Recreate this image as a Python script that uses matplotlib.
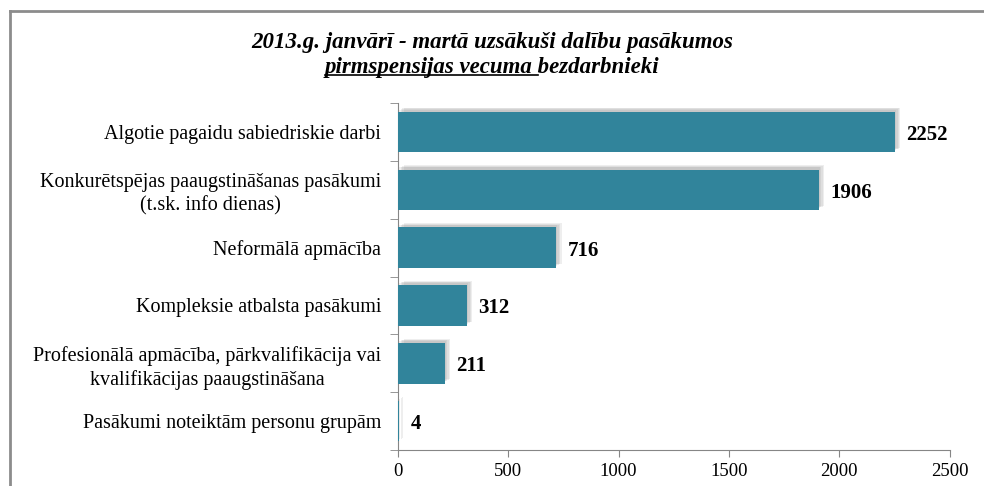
import matplotlib.pyplot as plt
import matplotlib.patheffects as pe
from matplotlib.lines import Line2D
import numpy as np

categories = [
    "Algotie pagaidu sabiedriskie darbi",
    "Konkurētspējas paaugstināšanas pasākumi\n(t.sk. info dienas)",
    "Neformālā apmācība",
    "Kompleksie atbalsta pasākumi",
    "Profesionālā apmācība, pārkvalifikācija vai\nkvalifikācijas paaugstināšana",
    "Pasākumi noteiktām personu grupām",
]
values = [2252, 1906, 716, 312, 211, 4]
xticks = [0, 500, 1000, 1500, 2000, 2500]

title1 = "2013.g. janvārī - martā uzsākuši dalību pasākumos"
title2_under = "pirmspensijas vecuma "
title2_rest = "bezdarbnieki"


def main():
    plt.rcParams["font.family"] = ["Liberation Serif", "DejaVu Serif"]
    fig = plt.figure(figsize=(9.84, 4.86), dpi=100)
    ax = fig.add_axes([0.4045, 0.074, 0.5605, 0.714])

    y = np.arange(len(values))
    # soft shadow: several faint offset copies
    shadow = []
    for off in [(4, 3), (3, 2.5), (2, 2), (1, 1.5)]:
        shadow.append(pe.SimplePatchShadow(offset=off, shadow_rgbFace="#808080", alpha=0.13))
    shadow.append(pe.Normal())
    bars = ax.barh(y, values, height=0.7, color="#31849B", zorder=3)
    for b in bars:
        b.set_path_effects(shadow)

    for yi, v in zip(y, values):
        ax.text(v + 52, yi + 0.05, str(v), va="center", ha="left",
                fontsize=15, fontweight="bold")

    ax.set_xlim(0, 2500)
    ax.set_ylim(len(values) - 0.5, -0.5)
    ax.set_xticks(xticks)
    ax.set_xticklabels([str(t) for t in xticks], fontsize=13.5)
    ax.set_yticks(y)
    ax.set_yticklabels(categories, fontsize=14.5, multialignment="center", linespacing=1.3)
    ax.set_yticks(np.arange(len(values) + 1) - 0.5, minor=True)

    ax.tick_params(axis="y", which="major", length=0, pad=12)
    ax.tick_params(axis="y", which="minor", length=6, color="#868686")
    ax.tick_params(axis="x", length=5, color="#868686", pad=4)
    for s in ["top", "right"]:
        ax.spines[s].set_visible(False)
    for s in ["left", "bottom"]:
        ax.spines[s].set_color("#868686")

    # title, first part of second line underlined
    fig.text(0.5, 0.912, title1, ha="center", va="center", fontsize=16.5,
             fontweight="bold", fontstyle="italic")
    t2 = fig.text(0.5, 0.862, title2_under + title2_rest, ha="center", va="center",
                  fontsize=16.5, fontweight="bold", fontstyle="italic")
    tu = fig.text(0, 0, title2_under.replace(" ", "\u00a0"), fontsize=16.5,
                  fontweight="bold", fontstyle="italic", alpha=0)
    fig.canvas.draw()
    r = fig.canvas.get_renderer()
    bb = t2.get_window_extent(r)
    wu = tu.get_window_extent(r).width
    W, H = fig.bbox.width, fig.bbox.height
    yl = (bb.y0 + 3) / H
    fig.add_artist(Line2D([bb.x0 / W, (bb.x0 + wu) / W], [yl, yl],
                          color="black", lw=1.2, transform=fig.transFigure))

    # outer frame
    fig.add_artist(Line2D([10 / 984, 10 / 984], [0, 1 - 11 / 486], color="#8c8c8c",
                          lw=2, transform=fig.transFigure))
    fig.add_artist(Line2D([10 / 984, 1], [1 - 11 / 486, 1 - 11 / 486], color="#8c8c8c",
                          lw=2, transform=fig.transFigure))

    plt.savefig("out.png", dpi=100)


if __name__ == "__main__":
    main()
